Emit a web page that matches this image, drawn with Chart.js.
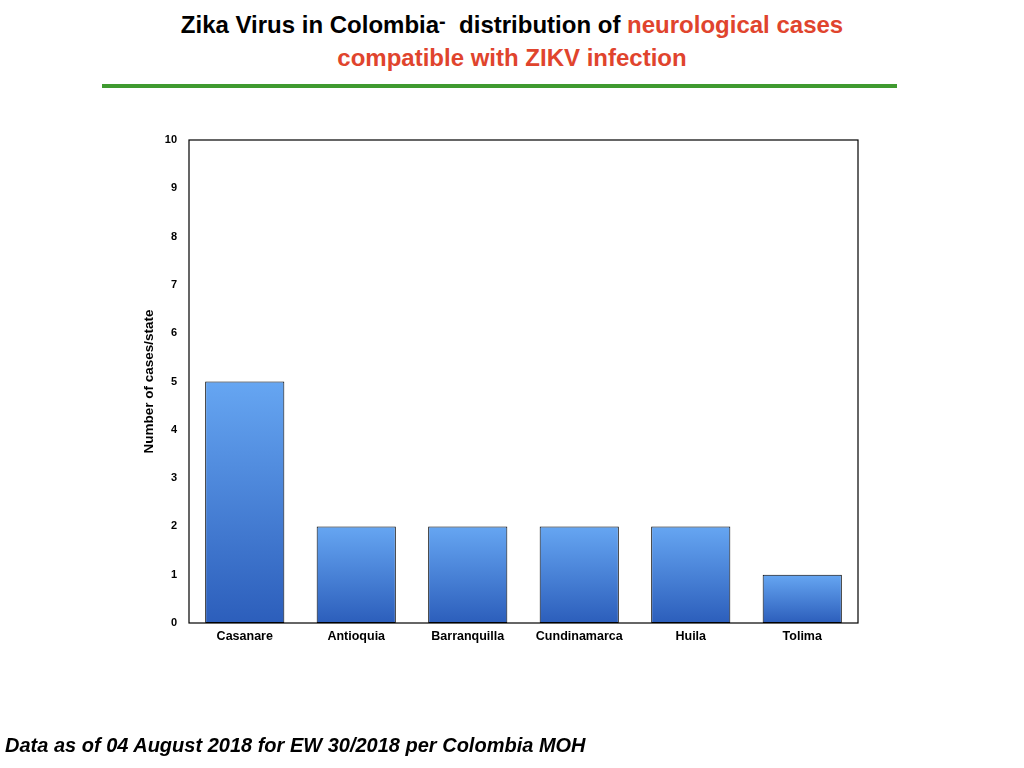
<!DOCTYPE html>
<html>
<head>
<meta charset="utf-8">
<script src="https://cdn.jsdelivr.net/npm/chart.js@4/dist/chart.umd.min.js"></script>
<style>
  html, body { margin: 0; padding: 0; background: #fff; }
  body { width: 1024px; height: 768px; position: relative; overflow: hidden; font-family: "Liberation Sans", Arial, sans-serif; }
  #title { position: absolute; left: 0; width: 1024px; top: 9px; text-align: center; font-weight: bold; font-size: 24px; line-height: 32px; color: #000; }
  #title .red { color: #e0442d; }
  #title .dash { position: relative; top: -5px; font-size: 20px; }
  #rule { position: absolute; left: 102px; top: 84px; width: 795px; height: 4px; background: #3f9a30; }
  #footer { position: absolute; left: 5px; top: 734px; font-weight: bold; font-style: italic; font-size: 20px; color: #000; }
  #c { position: absolute; left: 0; top: 0; }
</style>
</head>
<body>
<div id="title">Zika Virus in Colombia<span class="dash">-</span>&nbsp; distribution of <span class="red">neurological cases</span><br><span class="red">compatible with ZIKV infection</span></div>
<div id="rule"></div>
<canvas id="c" width="1024" height="768"></canvas>
<div id="footer">Data as of 04 August 2018 for EW 30/2018 per Colombia MOH</div>
<script>
const categories = ["Casanare", "Antioquia", "Barranquilla", "Cundinamarca", "Huila", "Tolima"];
const cases = [5, 2, 2, 2, 2, 1];
const yTicks = [0, 1, 2, 3, 4, 5, 6, 7, 8, 9, 10];
const yTitle = "Number of cases/state";

const framePlugin = {
  id: 'frame',
  afterDatasetsDraw(chart) {
    const a = chart.chartArea, ctx = chart.ctx;
    ctx.save();
    ctx.strokeStyle = '#000';
    ctx.lineWidth = 1.2;
    ctx.strokeRect(a.left, a.top, a.right - a.left, a.bottom - a.top);
    ctx.restore();
  }
};

function barGradient(context) {
  const chart = context.chart;
  const ys = chart.scales && chart.scales.y;
  if (!chart.chartArea || !ys || context.dataIndex === undefined) return '#4a85dc';
  const v = cases[context.dataIndex];
  const top = ys.getPixelForValue(v);
  const bot = ys.getPixelForValue(0);
  const g = chart.ctx.createLinearGradient(0, top, 0, bot);
  g.addColorStop(0, '#66a6f2');
  g.addColorStop(1, '#2c5ebb');
  return g;
}

new Chart(document.getElementById('c'), {
  type: 'bar',
  data: {
    labels: categories,
    datasets: [{
      data: cases,
      backgroundColor: barGradient,
      borderColor: '#000',
      borderWidth: 1,
      borderSkipped: false,
      categoryPercentage: 1.0,
      barPercentage: 0.71
    }]
  },
  options: {
    responsive: false,
    animation: false,
    devicePixelRatio: 1,
    layout: { padding: { left: 139, right: 166, top: 140, bottom: 115 } },
    plugins: { legend: { display: false }, tooltip: { enabled: false } },
    scales: {
      x: {
        grid: { display: false, drawTicks: false },
        border: { display: false },
        ticks: { color: '#000', padding: 6, font: { family: 'Liberation Sans', size: 12.5, weight: 'bold' } },
        afterFit(s) { s.height = 30; }
      },
      y: {
        min: 0, max: 10,
        afterBuildTicks(s) { s.ticks = yTicks.map(v => ({ value: v })); },
        grid: { display: false, drawTicks: false },
        border: { display: false },
        ticks: { color: '#000', padding: 12, font: { family: 'Liberation Sans', size: 11, weight: 'bold' } },
        title: { display: true, text: yTitle, color: '#000', padding: { top: 2, bottom: 4 }, font: { family: 'Liberation Sans', size: 13.5, weight: 'bold' } },
        afterFit(s) { s.width = 50; }
      }
    }
  },
  plugins: [framePlugin]
});
</script>
</body>
</html>
